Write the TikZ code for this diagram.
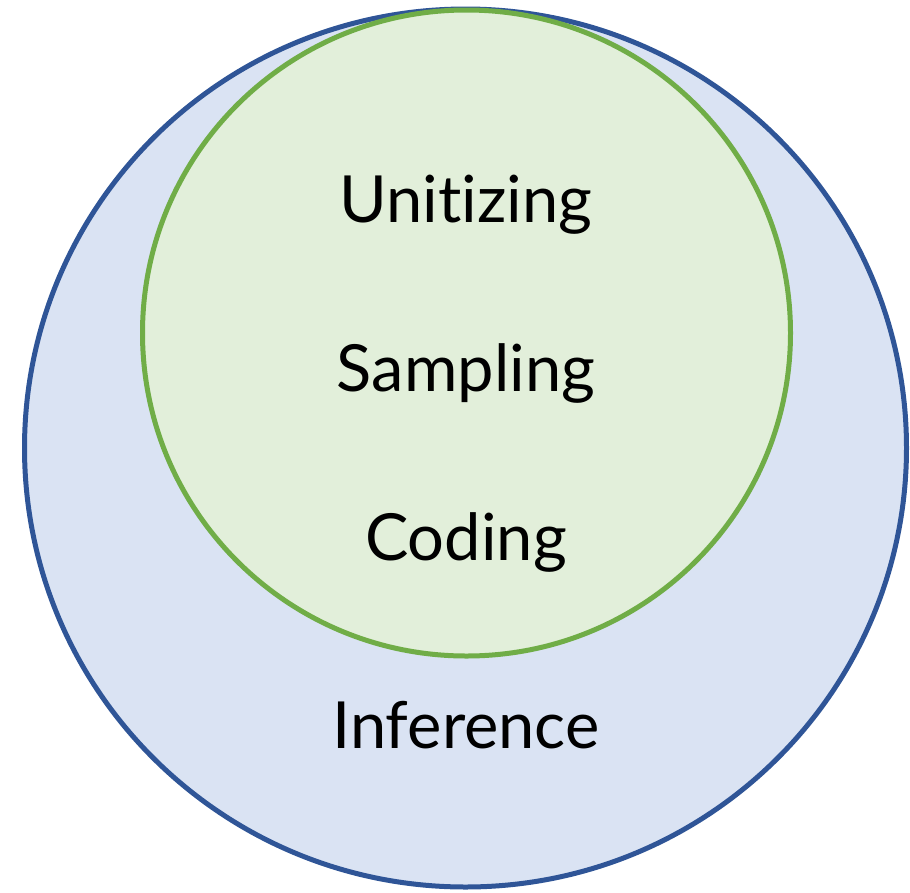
\documentclass[tikz,border=0pt]{standalone}
\usepackage{fontspec}
\usetikzlibrary{shapes.geometric}
\setmainfont{Lato}[Ligatures={NoCommon}]
\definecolor{outerfill}{HTML}{DAE3F3}
\definecolor{outerline}{HTML}{2F5597}
\definecolor{innerfill}{HTML}{E2EFDA}
\definecolor{innerline}{HTML}{70AD47}
\begin{document}
\begin{tikzpicture}[x=1pt,y=-1pt,
  lbl/.style={anchor=base,font=\fontsize{65}{70}\selectfont,inner sep=0pt},
  ring/.style={ellipse,line width=5pt,inner sep=0pt}]
\useasboundingbox (0,0) rectangle (910,892);
\node[ring,draw=outerline,fill=outerfill,minimum width=882pt,minimum height=878pt] (outer) at (465.5,448) {};
\node[ring,draw=innerline,fill=innerfill,minimum width=648pt,minimum height=646pt] (inner) at (466.5,333) {};
\node[lbl] (u) at (466,222) {Uni{}tizing};
\node[lbl] (s) at (466,391) {Sampling};
\node[lbl] (c) at (466,560) {Coding};
\node[lbl] (i) at (466,748) {Inference};
\end{tikzpicture}
\end{document}
